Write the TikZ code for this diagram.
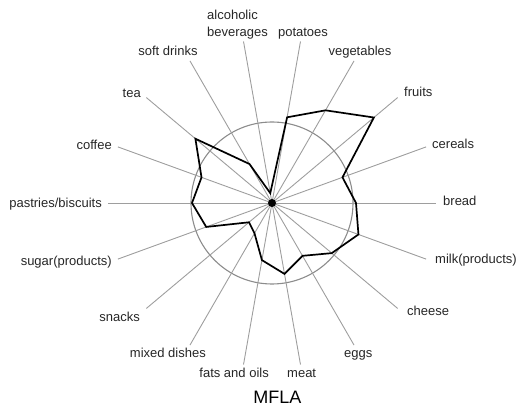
\documentclass[tikz,border=0pt]{standalone}
\usepackage{fontspec}
\setmainfont{Liberation Sans}
\tikzset{
  spoke/.style={draw=black!38, line width=0.9pt},
  ring/.style={draw=black!45, line width=1.1pt},
  series/.style={draw=black, line width=1.7pt, line join=miter},
  hub/.style={circle, fill=black, inner sep=0pt, minimum size=8pt},
  lbl/.style={inner sep=0pt, text=black!85, font=\fontsize{13}{17}\selectfont},
  ttl/.style={inner sep=0pt, text=black, font=\fontsize{18}{22}\selectfont}
}
\begin{document}
\begin{tikzpicture}[x=1pt, y=1pt]
  \useasboundingbox (-272,-206) rectangle (247,203);
  \coordinate (o) at (0,0);
  % spoke ends
  \draw
    (0:164) coordinate (e0)
    (20:164) coordinate (e1)
    (40:164) coordinate (e2)
    (60:164) coordinate (e3)
    (80:164) coordinate (e4)
    (100:164) coordinate (e5)
    (120:164) coordinate (e6)
    (140:164) coordinate (e7)
    (160:164) coordinate (e8)
    (180:164) coordinate (e9)
    (200:164) coordinate (e10)
    (220:164) coordinate (e11)
    (240:164) coordinate (e12)
    (260:164) coordinate (e13)
    (280:164) coordinate (e14)
    (300:164) coordinate (e15)
    (320:164) coordinate (e16)
    (340:164) coordinate (e17);
  % data points
  \draw
    (0:84) coordinate (d0)
    (20:75) coordinate (d1)
    (40:133) coordinate (d2)
    (60:107) coordinate (d3)
    (80:87) coordinate (d4)
    (100:10) coordinate (d5)
    (120:45) coordinate (d6)
    (140:100) coordinate (d7)
    (160:75) coordinate (d8)
    (180:80) coordinate (d9)
    (200:70) coordinate (d10)
    (220:30) coordinate (d11)
    (240:35) coordinate (d12)
    (260:58) coordinate (d13)
    (280:72) coordinate (d14)
    (300:61) coordinate (d15)
    (320:78) coordinate (d16)
    (340:92) coordinate (d17);
  \draw[ring] (o) circle (81);
  \begin{scope}[spoke]
    \draw (o) to (e0);
    \draw (o) to (e1);
    \draw (o) to (e2);
    \draw (o) to (e3);
    \draw (o) to (e4);
    \draw (o) to (e5);
    \draw (o) to (e6);
    \draw (o) to (e7);
    \draw (o) to (e8);
    \draw (o) to (e9);
    \draw (o) to (e10);
    \draw (o) to (e11);
    \draw (o) to (e12);
    \draw (o) to (e13);
    \draw (o) to (e14);
    \draw (o) to (e15);
    \draw (o) to (e16);
    \draw (o) to (e17);
  \end{scope}
  \draw[series] (d0) -- (d1) -- (d2) -- (d3) -- (d4) -- (d5) -- (d6) -- (d7) -- (d8)
    -- (d9) -- (d10) -- (d11) -- (d12) -- (d13) -- (d14) -- (d15) -- (d16) -- (d17) -- cycle;
  \node[hub] (hub) at (o) {};
  % labels
  \node[lbl, anchor=base west] (bread) at (171,-2.5) {bread};
  \node[lbl, anchor=base west] (cereals) at (160,54.5) {cereals};
  \node[lbl, anchor=base west] (fruits) at (132,106.5) {fruits};
  \node[lbl, anchor=base] (vegetables) at (88,147.5) {vegetables};
  \node[lbl, anchor=base] (potatoes) at (31,166.5) {potatoes};
  \node[lbl, anchor=south west, align=left] (alcoholic) at (-65,163.8) {alcoholic\\beverages};
  \node[lbl, anchor=base] (soft) at (-104,147.5) {soft drinks};
  \node[lbl, anchor=base east] (tea) at (-131,105.5) {tea};
  \node[lbl, anchor=base east] (coffee) at (-160,53.5) {coffee};
  \node[lbl, anchor=base east] (pastries) at (-170,-5) {pastries/biscuits};
  \node[lbl, anchor=base east] (sugar) at (-160,-63) {sugar(products)};
  \node[lbl, anchor=base east] (snacks) at (-132,-118.5) {snacks};
  \node[lbl, anchor=base east] (mixed) at (-66,-154.5) {mixed dishes};
  \node[lbl, anchor=base east] (fats) at (-3,-174.5) {fats and oils};
  \node[lbl, anchor=base west] (meat) at (15,-174.5) {meat};
  \node[lbl, anchor=base west] (eggs) at (72,-154) {eggs};
  \node[lbl, anchor=base west] (cheese) at (135,-112.5) {cheese};
  \node[lbl, anchor=base west] (milk) at (163,-60.5) {milk(products)};
  \node[ttl, anchor=base] (title) at (5.5,-200) {MFLA};
\end{tikzpicture}
\end{document}
